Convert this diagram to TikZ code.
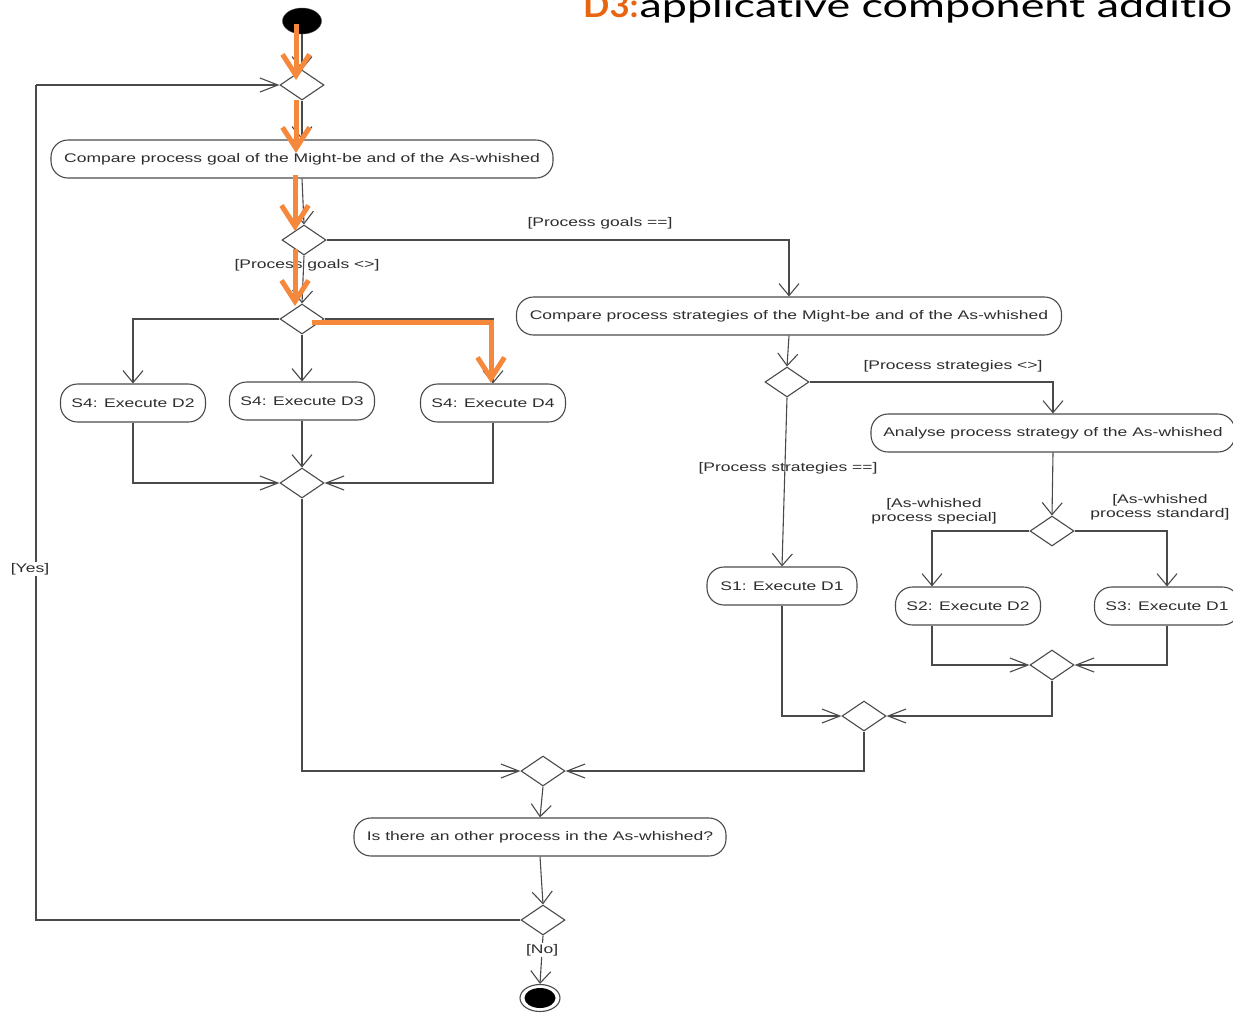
\documentclass[tikz,border=0pt]{standalone}
\usepackage{fontspec}
\newfontfamily\umlfont[FakeStretch=1.4]{Liberation Sans}
\newfontfamily\titlefont[FakeStretch=1.36,Ligatures=NoCommon]{Lato}
\newfontfamily\titlebold[FakeStretch=1.05,Ligatures=NoCommon]{Lato Bold}
\usetikzlibrary{shapes.geometric,arrows.meta}
\definecolor{ln}{HTML}{4A4A4A}
\definecolor{orng}{HTML}{F5883A}
\definecolor{ttl}{HTML}{E8650F}
\begin{document}
\begin{tikzpicture}[x=1pt,y=-1pt,
  every node/.style={font=\umlfont\fontsize{12.5}{14}\selectfont, text=black!82},
  act/.style={draw=ln, line width=1.1pt, rounded corners=17pt, minimum height=38pt, inner sep=0pt, fill=white},
  dec/.style={draw=ln, line width=1.1pt, diamond, aspect=1.47, minimum width=44pt, minimum height=30pt, inner sep=0pt, fill=white},
  flow/.style={draw=ln, line width=1.1pt, -{Straight Barb[length=12pt,width=20pt]}},
  hflow/.style={draw=ln, line width=1.1pt, -{Straight Barb[length=18pt,width=14pt]}},
  plain/.style={draw=ln, line width=1.1pt},
  guard/.style={inner sep=1pt, align=center},
  hl/.style={draw=orng, line width=5pt, -{Straight Barb[length=21pt,width=27pt]}}
]
\useasboundingbox (0,0) rectangle (1233,1013);
\clip (0,0) rectangle (1233,1013);
\fill[white] (0,0) rectangle (1233,1013);

% title
\node[anchor=base west, inner sep=0pt, font=\titlefont\fontsize{33}{36}\selectfont, text=black] (title) at (583,17)
  {\textcolor{ttl}{\titlebold D3:}\kern1pt applicative component addition};

% nodes
\node[ellipse, fill=black, draw=ln, minimum width=39pt, minimum height=26pt, inner sep=0pt] (start) at (302,21) {};
\node[dec] (D1) at (302,85) {};
\node[act, minimum width=502pt] (A1) at (302,159) {Compare process goal of the Might-be and of the As-whished};
\node[dec] (D2) at (304,240) {};
\node[dec] (D3) at (302,319) {};
\node[act, minimum width=145pt] (S4a) at (133,403) {S4: Execute D2};
\node[act, minimum width=145pt] (S4b) at (302,401) {S4: Execute D3};
\node[act, minimum width=145pt] (S4c) at (493,403) {S4: Execute D4};
\node[dec] (M1) at (302,483) {};
\node[act, minimum width=545pt] (A2) at (789,316) {Compare process strategies of the Might-be and of the As-whished};
\node[dec] (D4) at (787,382) {};
\node[act, minimum width=364pt] (A3) at (1053,433) {Analyse process strategy of the As-whished};
\node[dec] (D5) at (1052,531) {};
\node[act, minimum width=150pt] (S1) at (782,586) {S1: Execute D1};
\node[act, minimum width=145pt] (S2) at (968,606) {S2: Execute D2};
\node[act, minimum width=145pt] (S3) at (1167,606) {S3: Execute D1};
\node[dec] (M2) at (1052,665) {};
\node[dec] (M3) at (864,716) {};
\node[dec] (M4) at (543,771) {};
\node[act, minimum width=372pt] (A4) at (540,837) {Is there an other process in the As-whished?};
\node[dec] (D7) at (543,920) {};
\node[ellipse, draw=ln, line width=1.1pt, minimum width=40pt, minimum height=27pt, inner sep=0pt, fill=white] (end) at (540,998) {};
\node[ellipse, fill=black, minimum width=31pt, minimum height=20pt, inner sep=0pt] (endin) at (540,998) {};

% guards
\node[guard] (g1) at (600,223) {[Process goals ==]};
\node[guard] (g2) at (307,265) {[Process goals <>]};
\node[guard] (g3) at (953,366) {[Process strategies <>]};
\node[guard] (g4) at (788,468) {[Process strategies ==]};
\node[guard] (g5) at (934,511) {[As-whished\\process special]};
\node[guard] (g6) at (1160,507) {[As-whished\\process standard]};

% connectors
\draw[flow] (start) -- (D1.north);
\draw[flow] (D1.south) -- (A1.north);
\draw[flow] (A1.south) -- (D2.north);
\draw[flow] (D2.east) -| (A2.north);
\draw[flow] (D2.south) -- (D3.north);
\draw[flow] (D3.west) -| (S4a.north);
\draw[flow] (D3.south) -- (S4b.north);
\draw[flow] (D3.east) -| (S4c.north);
\draw[hflow] (S4a.south) |- (M1.west);
\draw[flow] (S4b.south) -- (M1.north);
\draw[hflow] (S4c.south) |- (M1.east);
\draw[hflow] (M1.south) |- (M4.west);
\draw[flow] (A2.south) -- (D4.north);
\draw[flow] (D4.east) -| (A3.north);
\draw[flow] (D4.south) -- (S1.north);
\draw[flow] (A3.south) -- (D5.north);
\draw[flow] (D5.west) -| ([xshift=-36pt]S2.north);
\draw[flow] (D5.east) -| (S3.north);
\draw[hflow] ([xshift=-36pt]S2.south) |- (M2.west);
\draw[hflow] (S3.south) |- (M2.east);
\draw[hflow] (S1.south) |- (M3.west);
\draw[hflow] (M2.south) |- (M3.east);
\draw[hflow] (M3.south) |- (M4.east);
\draw[flow] (M4.south) -- (A4.north);
\draw[flow] (A4.south) -- (D7.north);
\draw[flow] (D7.south) -- node[guard, fill=white, pos=0.3] (gno) {[No]} (end.north);
\coordinate (lb) at (36,920);
\coordinate (lt) at (36,85);
\draw[plain] (D7.west) -- (lb) -- node[guard, fill=white, pos=0.42, xshift=-6pt] (gyes) {[Yes]} (lt);
\draw[hflow] (lt) -- (D1.west);

% orange highlight
\coordinate (o1s) at (296,24);  \coordinate (o1e) at (296,80);
\coordinate (o2s) at (296,100); \coordinate (o2e) at (296,153);
\coordinate (o3s) at (295,175); \coordinate (o3e) at (295,231);
\coordinate (o4s) at (295,249); \coordinate (o4e) at (295,306);
\coordinate (o5s) at (312,322); \coordinate (o5c) at (491,322); \coordinate (o5e) at (491,383);
\draw[hl] (o1s) -- (o1e);
\draw[hl] (o2s) -- (o2e);
\draw[hl] (o3s) -- (o3e);
\draw[hl] (o4s) -- (o4e);
\draw[hl] (o5s) -- (o5c) -- (o5e);
\end{tikzpicture}
\end{document}
